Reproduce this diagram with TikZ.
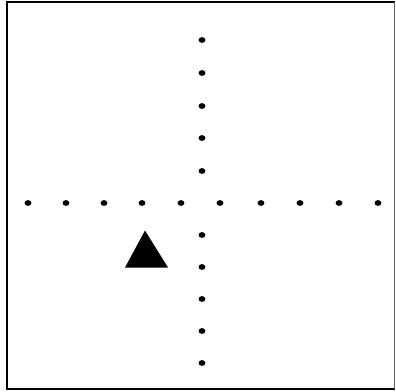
\documentclass[tikz,border=0pt]{standalone}
\begin{document}
\begin{tikzpicture}[x=1pt,y=-1pt,
  dotmark/.style={fill=black},
  frame/.style={draw=black,line width=1.6pt}]
\useasboundingbox (0,0) rectangle (396,391);
\draw[frame] (394.5,2) -- (7,2) -- (7,389) -- (394.5,389);
\draw[draw=black!60,line width=0.8pt] (394.5,2) -- (394.5,389);
% vertical column of dots
\foreach \y in {40,73,106,138,171,235,267,299,331,363}
  \fill[dotmark] (202,\y) ellipse (3.4 and 2.9);
% horizontal row of dots
\foreach \x in {28,66,104,142,181,220,261,300,339,378}
  \fill[dotmark] (\x,203) ellipse (3.4 and 2.9);
% triangle
\fill (145,230.5) -- (168,267.5) -- (125,267.5) -- cycle;
\end{tikzpicture}
\end{document}
